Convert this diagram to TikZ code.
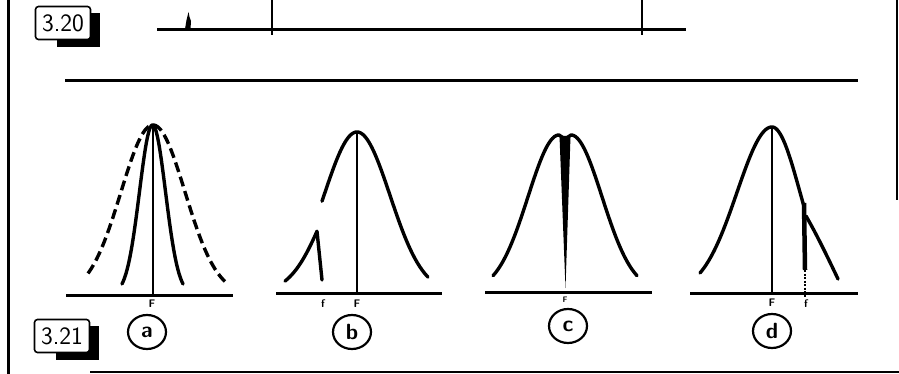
\documentclass[tikz,border=0pt]{standalone}
\usetikzlibrary{shapes.geometric}
\begin{document}
\begin{tikzpicture}[x=1pt,y=-1pt,
  frameline/.style={line width=3pt},
  baseline/.style={line width=3pt},
  curve/.style={line width=3.4pt, line cap=round, line join=round},
  dashcurve/.style={line width=3.4pt, dash pattern=on 10pt off 5pt},
  centerline/.style={line width=1.8pt},
  figlabel/.style={draw, fill=white, rounded corners=3pt, line width=1.6pt,
    minimum width=55pt, minimum height=33pt, inner sep=0pt,
    font=\sffamily\fontsize{25}{25}\selectfont},
  panellabel/.style={draw, ellipse, line width=2.2pt, minimum width=38pt,
    minimum height=34pt, inner sep=0pt,
    font=\sffamily\bfseries\fontsize{22}{22}\selectfont},
  freqlabel/.style={inner sep=0pt, font=\sffamily\bfseries\fontsize{11}{11}\selectfont}
]
\useasboundingbox (0,0) rectangle (899,374);
% frame
\draw[frameline] (8,0) -- (8,374);
\draw[line width=2pt] (897,0) -- (897,200);
\draw[line width=2.2pt] (90,372) -- (899,372);
% figure 3.20 remnant
\fill (57,13) rectangle (100,47);
\node[figlabel] (f320) at (63,23) {3.20};
\draw[baseline] (157,30) -- (686,30);
\draw[line width=2pt] (272,0) -- (272,35);
\draw[line width=2pt] (642,0) -- (642,35);
\fill (185,29) -- (186.5,20) -- (188.5,12) -- (189.5,17) -- (191,21) -- (190.5,29) -- cycle;
% separator
\draw[baseline] (65,81) -- (858,81);
% label 3.21
\fill (56,326) rectangle (99,360);
\node[figlabel] (f321) at (62,336) {3.21};

% ---- panel a ----
\draw[baseline] (66,295) -- (233,295);
\draw[dashcurve] plot[domain=88:225,samples=80,smooth] (\x,{295-170*exp(-((\x-153)^2)/2048)});
\draw[curve] plot[domain=122:183,samples=60,smooth] (\x,{295-170*exp(-((\x-152.5)^2)/340)});
\draw[centerline] (153,125) -- (153,295);
\node[freqlabel] (aF) at (152,304) {F};
\node[panellabel] (pa) at (147,332) {a};

% ---- panel b ----
\draw[baseline] (276,293) -- (442,293);
\draw[curve] plot[domain=285:317,samples=30,smooth] (\x,{293-0.8*161*exp(-((\x-357)^2)/2178)}) -- (322,280);
\draw[curve] plot[domain=322:428,samples=80,smooth] (\x,{293-161*exp(-((\x-357)^2)/2178)});
\draw[centerline] (357,132) -- (357,293);
\node[freqlabel] (bf) at (323,304) {f};
\node[freqlabel] (bF) at (357,304) {F};
\node[panellabel] (pb) at (352,332) {b};

% ---- panel c ----
\draw[baseline] (485,292) -- (652,292);
\draw[curve] plot[domain=493:559,samples=60,smooth] (\x,{292-157*exp(-((\x-559)^2)/1922)})
  -- (565,139) -- plot[domain=571:637,samples=60,smooth] (\x,{292-157*exp(-((\x-571)^2)/1922)});
\fill (559.5,136) -- (570.5,136) -- (565.5,288) -- cycle;
\node[freqlabel, font=\sffamily\bfseries\fontsize{8}{8}\selectfont] (cF) at (565,300) {F};
\node[panellabel] (pc) at (568,326) {c};

% ---- panel d ----
\draw[baseline] (690,293) -- (858,293);
\draw[curve] plot[domain=700:772,samples=60,smooth] (\x,{293-166*exp(-((\x-772)^2)/2450)})
  -- plot[domain=772:804,samples=30,smooth] (\x,{293-166*exp(-((\x-772)^2)/1568)});
\draw[line width=4.5pt] (804,203) -- (805,270);
\draw[curve] (806,216) .. controls (817,235) and (828,258) .. (838,279);
\draw[line width=1.4pt, dash pattern=on 2pt off 1.5pt] (805,270) -- (805,298);
\draw[centerline] (772,127) -- (772,293);
\node[freqlabel] (dF) at (772,303) {F};
\node[freqlabel] (df) at (806,304) {f};
\node[panellabel] (pd) at (772,331) {d};
\end{tikzpicture}
\end{document}
